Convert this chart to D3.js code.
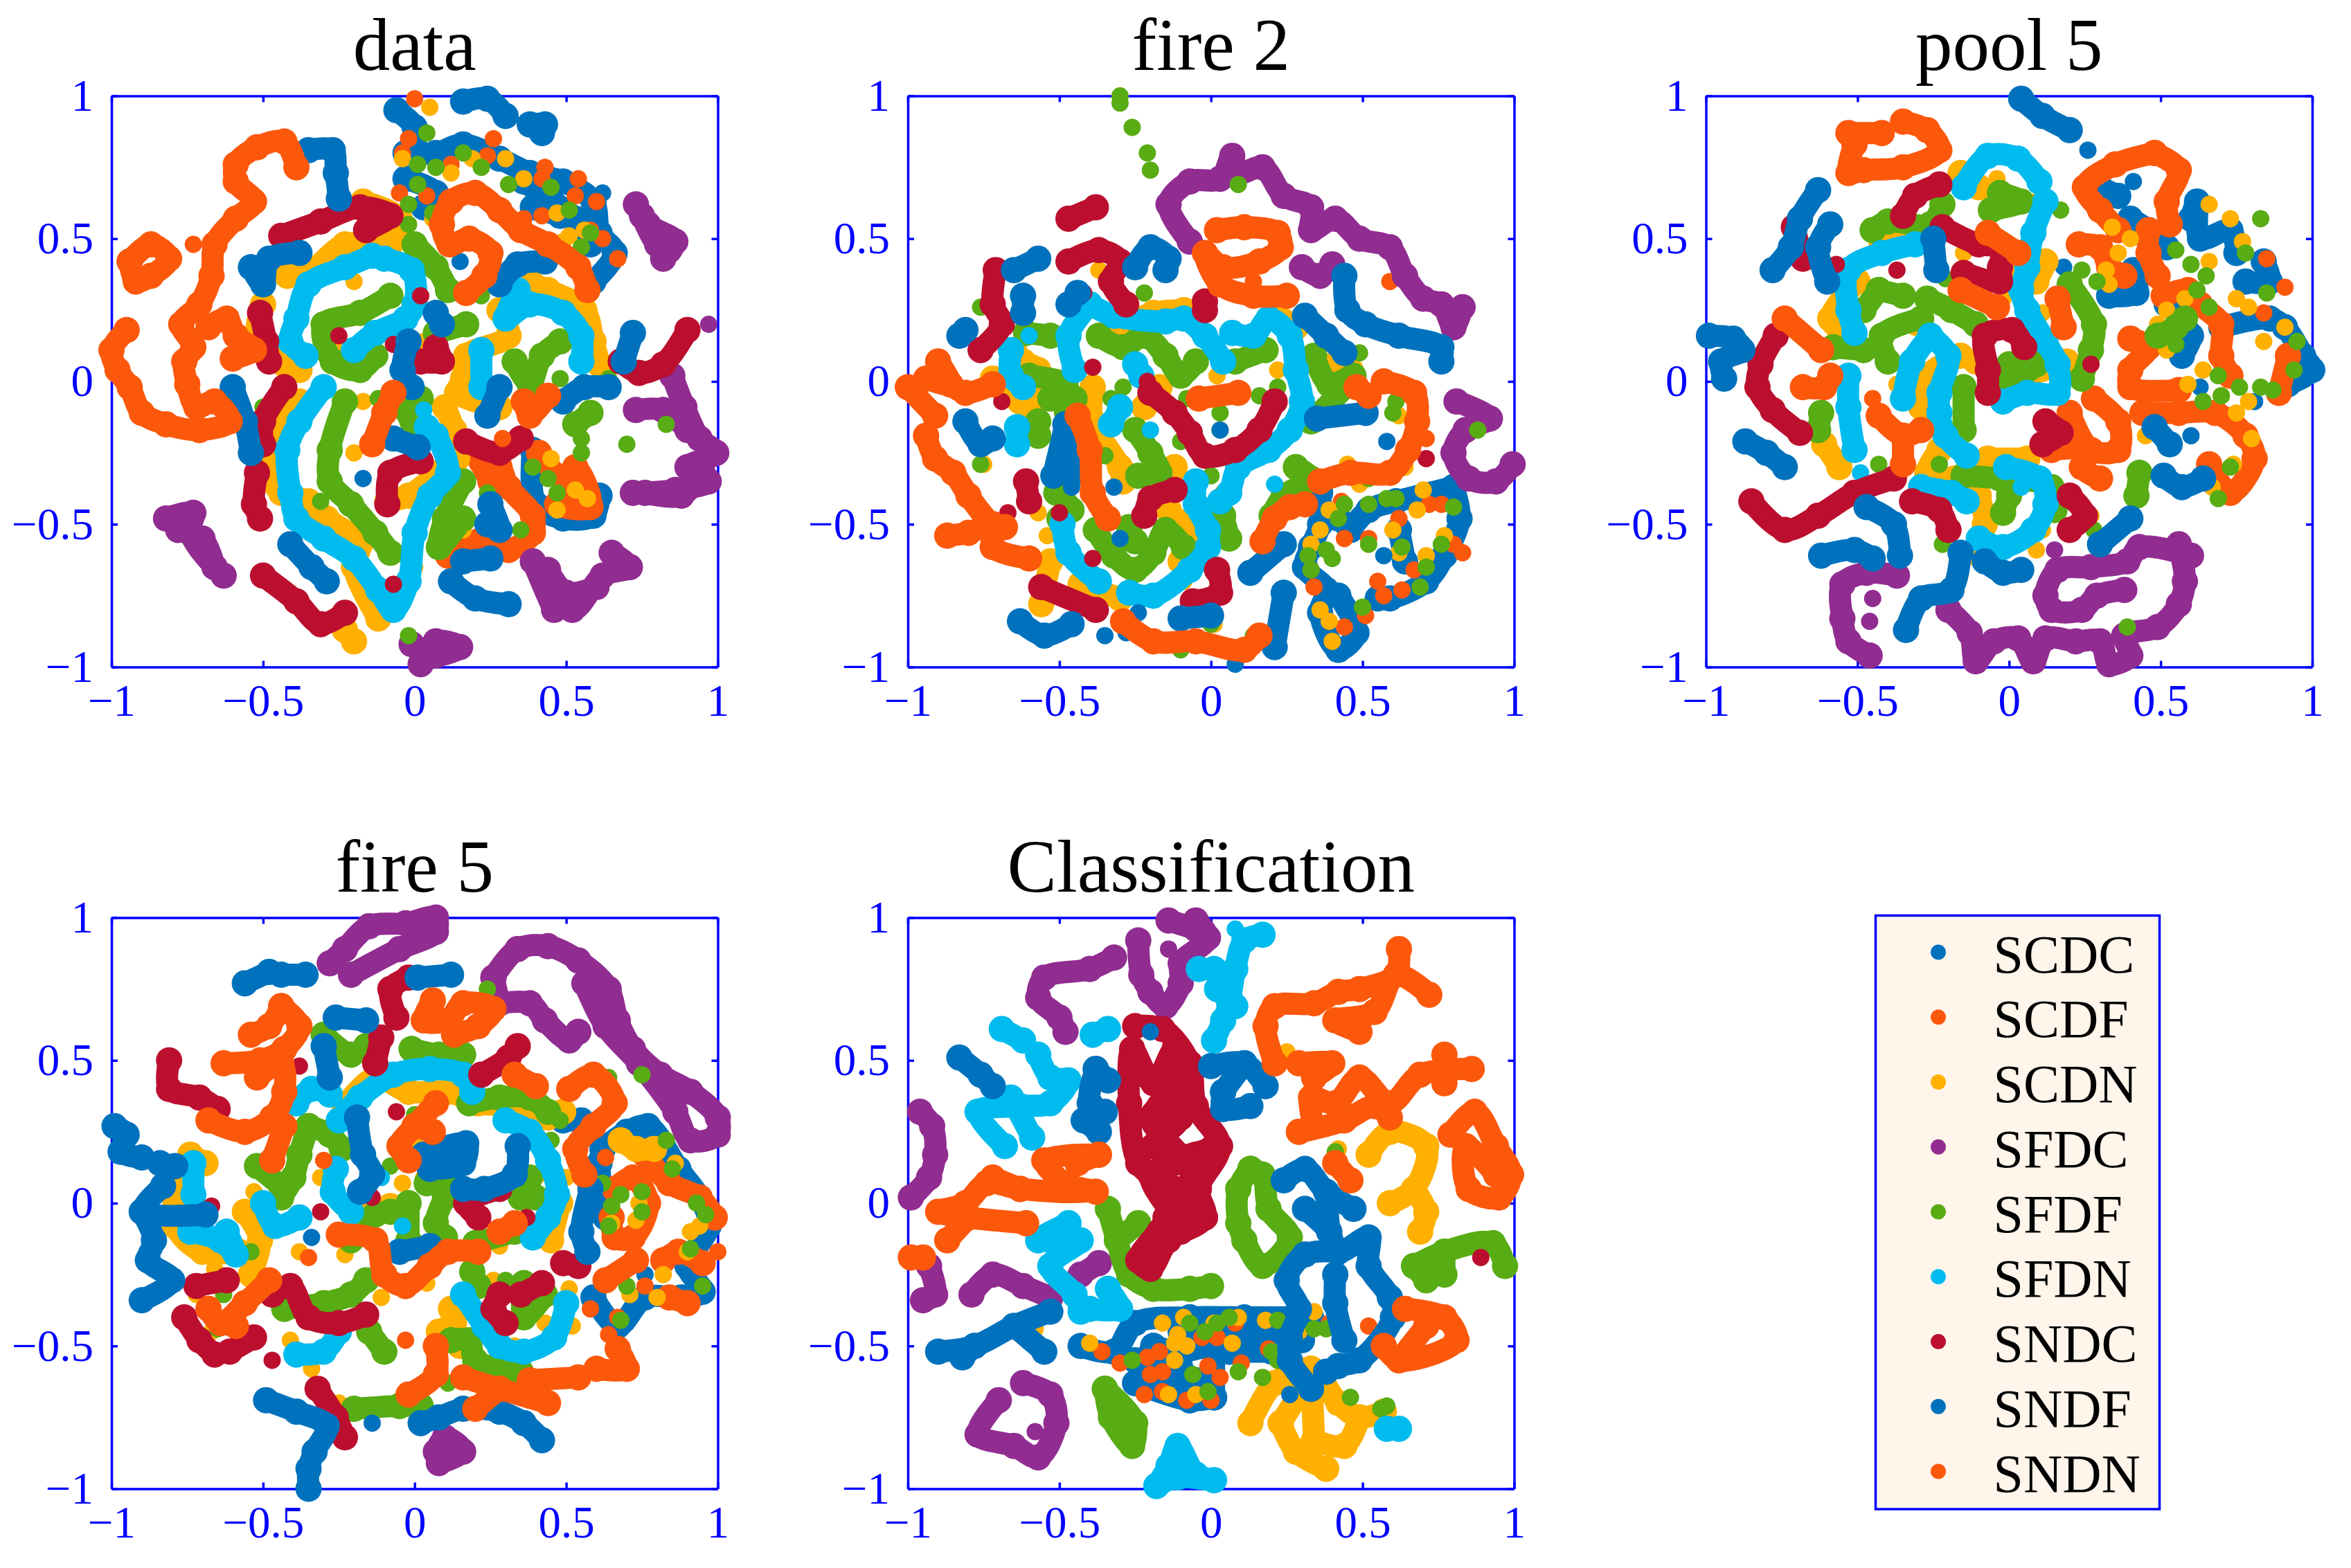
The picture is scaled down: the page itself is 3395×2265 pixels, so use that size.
<!doctype html>
<html>
<head>
  <meta charset="utf-8">
  <script src="https://d3js.org/d3.v7.min.js"></script>
  <style>
    html, body { margin: 0; background: #fff; }
    svg { display: block; }
    text { font-family: "Liberation Serif", serif; }
    .axis path, .axis line { stroke: #0000ff; stroke-width: 3.5; fill: none; }
    .axis text { fill: #0000ff; font-size: 65px; }
    .title { fill: #000; font-size: 107px; text-anchor: middle; }
    .trail { fill: none; stroke-width: 32; stroke-linecap: round; stroke-linejoin: round; }
  </style>
</head>
<body>
<script>
  var categories = ["SCDC", "SCDF", "SCDN", "SFDC", "SFDF", "SFDN", "SNDC", "SNDF", "SNDN"];
  var colors = ["#0072bd", "#fc580c", "#ffb000", "#912c91", "#58ac14", "#00bbee", "#bc0f2f", "#0072bd", "#fc580c"];
  var titles = ["data", "fire 2", "pool 5", "fire 5", "Classification"];
  var tickValues = [-1, -0.5, 0, 0.5, 1];
  var tickLabels = ["\u22121", "\u22120.5", "0", "0.5", "1"];

  // ---- data
  var data_SCDC = [
    [-.06,.95,0,.89,0,.82],[-.03,.8,.07,.8,.16,.83,.28,.78,.38,.73,.49,.7,.59,.63,.61,.52,.66,.45,.59,.35],
    [-.03,.71,.07,.66,.03,.61],[.36,.7,.43,.65,.53,.57,.58,.48],[.39,.61,.48,.58],[.62,.66],
    [.39,-.24,.4,-.43,.49,-.48,.59,-.47,.61,-.4]];
  var data_SCDF = [
    [0,.99],[-.02,.85],[-.04,.8],[.26,.85],[.24,.79],[-.05,.66],[.04,.65],[.43,.75],[.42,.71],[.54,.71],[.42,.58],[.53,.65],[.6,.63],
    [.58,.53],[.67,.43],[.62,.5],[.12,.76],[.36,.57],
    [.41,-.25,.49,-.34,.53,-.3,.58,-.44,.47,-.43,.49,-.4],
    [.11,-.61,.21,-.56,.31,-.59,.39,-.53,.39,-.47,.31,-.37,.28,-.3,.22,-.28,.25,-.35]];
  var data_SCDN = [
    [.05,.96],[-.04,.78],[.3,.78],[.12,.73],[.19,.78],[.36,.71],[.47,.59],[.51,.51],[.49,.49],[.56,.53],[.06,.57],
    [.45,-.27],[.53,-.38],[.57,-.41],[.47,-.45],
    [-.42,.37,-.34,.39,-.23,.48,-.08,.48,-.05,.57,-.17,.63],[-.5,.27,-.52,.17,-.43,.06,-.38,.04],
    [.39,.34,.44,.32,.56,.25,.59,.14,.61,.06],[.28,.25,.31,.16,.17,.09,.16,.01,.14,-.04,.28,-.09],
    [.1,-.09,.13,-.17,.14,-.27,.08,-.32,-.02,-.4,-.09,-.42],
    [-.38,-.07,-.47,-.22,-.49,-.3,-.44,-.39,-.35,-.42,-.29,-.48,-.18,-.57,-.2,-.65,-.12,-.83],
    [-.23,-.87,-.2,-.91],[0,-.65],[-.2,.35],[-.17,-.07],[-.2,-.25],[.16,-.52],[-.25,.12],[.03,.14]];
  var data_SFDC = [
    [.73,.62,.77,.55,.86,.49,.82,.43],[.75,.58,.8,.48,.84,.46],[.97,.2],
    [.85,.02,.89,-.09,.94,-.2,.995,-.25,.9,-.3,.97,-.35,.86,-.38,.72,-.39],[.73,-.1,.82,-.1,.9,-.17],[.76,-.39,.88,-.4,.95,-.32],
    [-.82,-.48,-.73,-.46,-.74,-.53,-.66,-.65,-.63,-.68],[-.78,-.52,-.7,-.55,-.66,-.65],
    [.39,-.63,.46,-.8,.42,-.66,.52,-.8,.62,-.68,.71,-.65,.65,-.6],[.44,-.66,.5,-.74,.6,-.72],
    [-.01,-.92,.07,-.96,.15,-.93,.07,-.91,.02,-.99]];
  var data_SFDF = [
    [.04,.87],[.01,.76],[.16,.8],[.07,.75],[.22,.75],[.01,.69],[-.02,.62],[.06,.59],[-.02,.55],[.31,.69],[.45,.68],[.51,.6],[.58,.52],[.55,.47],
    [.39,-.3],[.44,-.34],[.47,-.39],[.55,-.25],[.55,-.2],
    [-.08,.3,-.18,.24,-.3,.2,-.27,.07,-.18,.04,-.13,.09],[0,.48,.07,.4,.11,.32],[.22,.3],[.17,.2,.07,.17],
    [.33,.07,.38,-.01,.42,.09,.48,.14],[-.23,-.07,-.28,-.24,-.28,-.35,-.21,-.43,-.13,-.53,-.08,-.6],
    [.16,-.35,.1,-.48,.08,-.58,.16,-.48],[.02,-.06,-.02,-.11,0,-.17],[.58,-.11,.53,-.15],
    [.7,-.22],[.83,-.15],[.48,.01],[.35,-.52],[.24,-.39],[-.31,-.42],[-.02,-.89],[-.12,-.06],[-.5,-.09],[.64,.01]];
  var data_SFDN = [
    [-.14,.44,-.23,.4,-.35,.34,-.39,.22,-.41,.14,-.36,.09],[-.1,.43,-.01,.39,0,.27,-.03,.22,-.13,.17,-.2,.11],
    [.34,.32,.3,.22,.38,.27,.49,.24,.55,.16,.55,.07],[.22,.11,.22,-.02],
    [-.3,-.02,-.38,-.14,-.42,-.24,-.41,-.39,-.39,-.48,-.3,-.55,-.2,-.62,-.12,-.73,-.07,-.8,-.02,-.7,0,-.53,.05,-.4,.11,-.32,.07,-.19,.04,-.16],
    [.03,-.1]];
  var data_SNDC = [
    [-.44,.51,-.31,.56,-.18,.61,-.08,.58,-.16,.53],[-.51,.24,-.49,.14,-.48,.07],[-.25,.16],[-.07,.13],[.02,.3],
    [.02,.07,.09,.07,.07,.12],[-.43,-.02,-.5,-.14,-.5,-.22],[-.52,-.32,-.53,-.43,-.51,-.48],
    [-.5,-.68,-.39,-.77,-.31,-.85,-.23,-.81],[.02,-.28,-.08,-.32,-.09,-.43],[.17,-.21,.28,-.25,.35,-.2],
    [.68,.07,.74,.03,.82,.06,.9,.18],[-.07,-.71]];
  var data_SNDF = [
    [.16,.98,.24,.99,.3,.93],[.38,.9,.43,.9,.42,.87],[-.35,.81,-.27,.81,-.26,.73,-.25,.64],
    [-.54,.4,-.5,.34,-.48,.43,-.38,.45],[.28,.34,.34,.41,.43,.42],[.15,.42],[.07,.24,.09,.2],
    [-.02,.14,-.04,.04,-.01,-.02],[.28,-.02,.24,-.12],[.49,-.07,.56,-.02,.64,-.02],[.72,.17,.69,.07],
    [-.6,-.02,-.56,-.14,-.54,-.25],[-.41,-.57,-.34,-.65,-.29,-.7],[.12,-.7,.2,-.76,.31,-.78],[.16,-.63,.25,-.62],
    [.25,-.43,.28,-.52,.24,-.5],[-.17,-.34],[-.07,-.2,.01,-.23]];
  var data_SNDN = [
    [-.95,.18,-1,.11,-.98,.04,-.94,-.02,-.9,-.11,-.82,-.15,-.71,-.17,-.61,-.14,-.66,-.07,-.72,-.09,-.75,-.01,-.76,.07,-.73,.12,-.77,.2,-.71,.27,-.67,.37,-.66,.48,-.59,.57,-.53,.63,-.59,.7,-.59,.76,-.52,.82,-.43,.84,-.39,.75],
    [-.68,.19,-.62,.22,-.59,.16,-.53,.11,-.6,.08],[-.94,.42,-.87,.48,-.81,.43,-.87,.37,-.92,.35,-.94,.42],[-.73,.48],
    [.57,.32,.54,.4,.44,.48,.35,.53,.28,.6,.2,.66,.12,.63,.09,.55,.115,.48,.18,.5,.25,.45,.23,.37,.17,.31],
    [.36,-.07,.38,-.12,.44,-.05],[.29,-.2],[-.14,-.22,-.1,-.11,-.07,-.04]];

  // ---- fire 2
  var fire2_SCDC = [
    [.36,-.39,.36,-.5,.33,-.58,.31,-.65,.38,-.73,.36,-.81,.42,-.94,.48,-.88,.42,-.75],[.46,-.52,.52,-.45,.61,-.42],
    [.42,-.48,.46,-.52],[.8,-.37,.82,-.48,.77,-.61,.71,-.7,.59,-.76,.55,-.76],[.62,-.52,.64,-.63],[.61,-.42,.8,-.37]];
  var fire2_SCDF = [
    [.43,-.42],[.44,-.55],[.52,-.55],[.33,-.66],[.34,-.72],[.44,-.86],[.51,-.82],[.55,-.7],[.62,-.48],[.63,-.73],[.72,-.43],[.76,-.43],[.83,-.6],[.67,-.66],[.57,-.75],[.8,-.57],[.59,.35]];
  var fire2_SCDN = [
    [.39,-.45],[.36,-.52],[.33,-.57],[.36,-.8],[.39,-.84],[.4,-.91],[.6,-.52],[.62,-.6],[.68,-.45],[.7,-.38],[.77,-.54],[.71,-.61],[.45,-.29],[.49,-.36],[.64,-.3],[.62,-.12],
    [-.65,.11,-.62,.07,-.57,.04,-.6,-.09,-.63,-.07,-.72,.01],[-.75,-.29],[-.57,-.46],[-.54,-.54],[-.53,-.63,-.56,-.78],[-.43,-.71,-.3,-.76],[-.09,-.7],[-.37,.39],
    [-.09,.25,-.19,.24,-.3,.19],[-.39,-.02,-.39,-.14,-.3,-.3,-.29,-.35],[-.12,-.3,-.14,-.45,-.07,-.52,-.1,-.63],[.04,-.39],
    [.21,.24,.28,.19],[.22,.04],[.34,.07,.46,.04],[.02,.02],[-.22,-.09,-.17,-.02],[.03,-.17],[.01,-.85]];
  var fire2_SFDC = [
    [-.07,.49,-.14,.62,-.07,.7,.03,.71,.07,.79,.09,.73,.17,.75,.24,.65,.33,.61,.33,.53,.41,.57,.49,.5,.59,.47,.64,.37,.7,.29,.76,.27,.8,.19,.83,.26],
    [.3,.4,.36,.37,.4,.41],[.81,-.07,.92,-.13,.84,-.17,.8,-.25,.85,-.34,.94,-.35,.995,-.29]];
  var fire2_SFDF = [
    [-.3,1],[-.3,.975],[-.26,.89],[-.21,.8],[-.2,.74],[.09,.69],[-.22,.31],[.49,.1],[.88,-.17],
    [-.61,.17,-.53,.16],[-.37,.16,-.29,.12,-.22,.16,-.15,.09,-.1,.02,-.05,.07],[.08,.07,.18,.11],[-.6,.02,-.48,-.01,-.53,-.06,-.45,-.06],
    [.34,.09,.39,-.01,.47,.02,.33,-.14],[-.57,-.14,-.57,-.19],[-.49,-.11],[-.33,-.06],[-.29,-.02],[-.08,-.06],[.03,-.11],[.16,-.05],[.22,-.02],[-.76,.26],[-.76,-.29],[-.35,-.26],
    [-.25,-.17,-.2,-.25,-.17,-.32,-.24,-.33],[-.1,-.21],[0,-.33],[.28,-.3,.33,-.34,.24,-.4,.2,-.47],[-.51,-.39,-.46,-.45,-.5,-.48],
    [-.38,-.52,-.32,-.61,-.25,-.66,-.19,-.6,-.15,-.52,-.09,-.58],[-.27,-.51,-.25,-.56],[.04,-.47,.06,-.55],[0,-.85],[-.1,-.94],[.14,-.89],
    [.44,-.43],[.42,-.48],[.52,-.43],[.52,-.57],[.38,-.59],[.4,-.62],[.32,-.61],[.33,-.66],[.5,-.79],[.58,-.41],[.61,-.41],[.63,-.58],[.71,-.65],[.69,-.72],[.76,-.57],[.8,-.44],[.52,-.34],[.61,-.07],[.6,-.11]];
  var fire2_SFDN = [
    [-.4,.27,-.32,.23,-.15,.21,-.09,.22,-.02,.16,.04,.07],[-.4,.27,-.47,.16,-.45,.04],
    [.07,.17,.14,.16,.19,.22,.26,.16,.28,.04,.3,-.07,.26,-.17,.19,-.24,.09,-.3,.06,-.39,.03,-.42],
    [-.6,.16],[-.66,.11,-.66,.02,-.62,-.02],[-.64,-.16,-.64,-.22],[-.3,-.09,-.33,-.15],[-.25,.06,-.23,.02],[-.2,-.17],
    [-.05,-.35,-.05,-.43,-.01,-.52,-.01,-.58,-.07,-.66,-.19,-.75,-.27,-.74],[-.49,-.5,-.47,-.6,-.37,-.7],[.21,-.36]];
  var fire2_SNDC = [
    [-.47,.57,-.38,.61],[-.47,.42,-.37,.46,-.3,.42,-.33,.35,-.28,.27],[-.42,.31],[-.71,.39,-.72,.27,-.69,.2,-.76,.11],[-.02,.25,-.02,.28],
    [-.39,.05],[-.69,-.07],[-.21,0],[-.2,-.04,-.12,-.11,-.07,-.18,-.02,-.26,.08,-.24,.16,-.17,.21,-.07],[-.61,-.35,-.6,-.42],[-.67,-.46],[-.5,-.46],
    [-.22,-.47,-.2,-.41,-.12,-.38],[-.39,-.62],[.02,-.66,.03,-.74,-.06,-.77],[-.56,-.72,-.38,-.8],[.71,-.27]];
  var fire2_SNDF = [
    [-.65,.39,-.57,.43],[-.62,.3,-.62,.24],[-.47,.27,-.44,.31],[-.83,.16,-.81,.18],[-.25,.4,-.2,.47,-.14,.43,-.15,.39],
    [.44,.37,.45,.25,.51,.2,.62,.16,.76,.12,.76,.07],[.31,.23,.38,.16,.44,.1],[.35,-.13,.51,-.11],[-.81,-.14,-.76,-.22,-.72,-.2],
    [-.48,-.15,-.52,-.33],[-.48,-.15,-.45,-.32],[-.46,-.37],[.58,-.21],[.57,-.61],[.13,-.67,.24,-.57],[.24,-.74,.21,-.93],[.08,-.99],
    [-.63,-.84,-.55,-.89,-.46,-.85],[-.35,-.89],[-.28,-.88],[-.1,-.83,0,-.82],[-.24,-.81],[.03,-.17],[-.32,-.37],[-.3,-.55]];
  var fire2_SNDN = [
    [.02,.53,.11,.54,.22,.52,.23,.47,.16,.42,.04,.4,-.02,.45,.03,.34,.14,.3,.25,.3],[.14,.35],[-1,-.02,-.91,-.12],
    [-.9,.07,-.86,-.01,-.94,.01],[-.86,-.01,-.81,-.04,-.72,-.01],
    [-.94,-.19,-.91,-.27,-.85,-.32,-.8,-.4,-.72,-.5,-.68,-.51],[-.87,-.54,-.8,-.53,-.72,-.5,-.72,-.58,-.6,-.62],
    [.57,0,.67,-.04,.68,-.14,.65,-.24,.59,-.32,.46,-.32,.36,-.35],[.71,-.2],[.48,-.02,.52,-.05],
    [-.29,-.84,-.19,-.91,-.05,-.91,.11,-.94,.16,-.89],[.31,-.43,.26,-.44,.21,-.48,.17,-.56],
    [-.44,-.12,-.4,-.24,-.39,-.39,-.34,-.48],[-.04,-.06,.09,-.04]];

  // ---- pool 5
  var pool5_SCDC = [
    [.3,.68,.36,.65],[.41,.7],[.18,.4],[.33,.3,.42,.31,.41,.39],[.4,.57,.46,.53,.52,.47],[.6,.57,.62,.63,.63,.5,.73,.53,.75,.45],
    [.78,.35,.86,.35,.84,.42],[.52,.27,.6,.16,.57,.09],[.7,.19,.86,.22,.91,.19,.97,.09,1,.04,.92,-.01],[.63,-.02],[.81,-.07]];
  var pool5_SCDF = [
    [.48,.8,.56,.74,.52,.63,.53,.55],[.48,.8,.35,.76,.25,.68,.3,.6,.36,.53],[.23,.48,.3,.47,.33,.4,.38,.37],[.46,.53,.46,.45,.49,.37],
    [.51,.3,.59,.32,.63,.27,.7,.2,.7,.09,.73,.02],[.84,.24],[.91,.33],[.92,.09,.89,-.04],[.85,.43],
    [.4,.15,.46,.12,.4,.04,.4,-.02,.56,-.03],[.44,-.11,.56,-.11,.68,-.11,.78,-.19,.81,-.27,.73,-.39,.66,-.29],
    [.28,-.06,.36,-.14,.36,-.24,.27,-.24,.2,-.11],[.3,-.34,.24,-.3,.27,-.24,.14,-.24]];
  var pool5_SCDN = [
    [-.16,.73,-.1,.68],[.09,.63],[-.04,.71],[-.5,.35,-.59,.22,-.55,.17],[-.42,.48,-.32,.5],[-.15,.45],[.04,.37,.12,.42,.09,.35],[-.02,.29],[.11,.24],
    [-.31,.19],[-.16,.09,-.27,.02,-.29,-.09],[-.37,-.01],[-.11,.07,.03,.02,.19,.07],[-.61,-.22,-.56,-.3],[-.23,-.24,-.27,-.32,-.18,-.34],[-.07,-.27,.06,-.27],
    [-.1,-.4,-.08,-.5,-.11,-.6],[.09,-.59],[.11,-.52],[.27,-.47],
    [.66,.62],[.73,.57],[.77,.49],[.34,.54],[.4,.5],[.36,.45],[.32,.39],[.33,.34],[.58,.29],[.66,.42],[.52,.25],[.49,.2],[.52,.11],[.75,.29],[.79,.26],[.91,.19],[.84,.14],[.64,.04],[.59,-.01],[.75,-.11],[.79,-.07],[.8,-.2],[.74,-.29],[.67,-.37],[.45,-.19],[.7,-.05]];
  var pool5_SFDC = [
    [-.37,-.68,-.47,-.67,-.55,-.71,-.55,-.83,-.53,-.91,-.46,-.96],[-.45,-.76],[-.46,-.84],
    [-.2,-.8,-.13,-.88,-.11,-.98,-.05,-.91,.03,-.9,.08,-.98,.12,-.9,.22,-.91,.3,-.91,.33,-.99,.4,-.96,.38,-.89,.49,-.86,.56,-.78,.58,-.7,.56,-.57],
    [.6,-.61,.43,-.58,.39,-.63,.27,-.65,.16,-.66,.12,-.75,.14,-.8,.24,-.8,.29,-.75,.38,-.73],[.15,-.59]];
  var pool5_SFDF = [
    [-.03,.66,.04,.63,-.06,.6],[-.22,.62,-.26,.55,-.4,.56,-.45,.53],[-.43,.32,-.35,.3],[-.48,.25,-.43,.32],
    [-.27,.29,-.19,.25,-.11,.2],[-.29,.22,-.42,.16,-.4,.07],[-.58,.12,-.48,.11],[-.62,-.11,-.63,-.17],[-.15,-.02,-.15,-.17],[0,.06,.09,.06,-.01,-.01],
    [.2,.34,.28,.2,.27,.11,.24,.01],[.29,.35],[.43,-.32,.42,-.4],[0,-.4,-.02,-.46],[-.15,-.33,-.03,-.34,.14,-.37,.15,-.45],[-.23,-.29],[-.43,-.29],[-.22,-.57],
    [-.21,.36],[.24,.39],[.17,.6],[.28,-.52],[.39,-.86],[.73,-.3],[.69,-.41],
    [.55,.46],[.6,.41],[.65,.37],[.62,.32],[.66,.26],[.83,.57],[.78,.45],[.85,.31],[.58,.22,.55,.19,.49,.16],[.55,.13],[.95,.14],[.94,.04],[.83,-.02],[.87,-.03],[.76,-.02],[.69,.02],[.7,-.05],[.64,-.07]];
  var pool5_SFDN = [
    [-.15,.68,-.07,.79,.03,.78,.1,.7],[.12,.63,.08,.52,.06,.4,.04,.32,.06,.25,.12,.14,.16,.06,.16,-.04,.06,-.04,-.02,-.07],
    [-.31,.48,-.42,.45,-.53,.39,-.53,.25,-.51,.17],[-.26,.16,-.32,.07,-.35,-.06],[-.26,.16,-.2,.09,-.23,-.04,-.23,-.11,-.21,-.19,-.14,-.26],
    [-.53,.02,-.53,-.09,-.51,-.24],[-.49,-.32],[-.29,-.37,-.19,-.39,-.14,-.42],[-.01,-.3,.1,-.34,.12,-.43,.08,-.52,-.02,-.58,-.1,-.55],[.04,-.37]];
  var pool5_SNDC = [
    [-.77,.16,-.82,.06,-.83,-.02,-.78,-.1,-.69,-.18],[-.85,-.42,-.74,-.52,-.63,-.47,-.51,-.39,-.38,-.34],[-.35,.58,-.31,.65,-.23,.69],
    [-.22,.54,-.1,.48,-.03,.47,-.03,.4,-.03,.35,-.15,.38],[-.71,.54,-.68,.43],[-.57,.41],[-.37,.39],
    [.05,.12,.01,.18,-.08,.16,-.07,.04,-.07,-.04],[.12,-.14,.17,-.18,.11,-.22],[.27,.06],[-.32,-.42,-.23,-.45,-.2,-.52],[.2,-.4,.25,-.47,.2,-.52]];
  var pool5_SNDF = [
    [.04,.99,.11,.93,.2,.88],[.26,.81],[-.63,.67,-.69,.57,-.72,.47,-.78,.39],[-.59,.55,-.63,.47,-.6,.35],
    [-.99,.16,-.91,.15,-.88,.11,-.95,.07,-.94,.01],[-.87,-.21,-.8,-.25,-.74,-.3],[-.25,.5,-.24,.39],[-.47,-.44,-.38,-.5,-.36,-.61],[-.62,-.61,-.51,-.59,-.45,-.62],
    [-.34,-.87,-.29,-.76,-.19,-.73,-.16,-.6],[-.08,-.63,-.02,-.67,.04,-.66],[.3,-.57,.4,-.48],[.51,-.33,.57,-.37,.64,-.34],[.48,-.16,.53,-.22],[.6,-.19]];
  var pool5_SNDN = [
    [-.53,.87,-.42,.87],[-.35,.91,-.27,.88,-.23,.81,-.35,.75,-.48,.74,-.53,.73,-.51,.83],[-.07,.52,.03,.45],[-.16,.32,-.04,.26],[.16,.29,.18,.19],
    [-.74,.22,-.62,.11],[-.68,-.02,-.61,-.02,-.59,.02],[-.45,-.06],[-.43,-.12,-.35,-.19,-.29,-.17],[-.35,-.19,-.35,-.29]];

  // ---- fire 5
  var fire5_SCDC = [
    [.62,.19,.7,.25,.77,.27,.87,.12,.94,.02,.97,-.08,.9,-.22,.95,-.31,.88,-.33,.76,-.33,.67,-.43,.59,-.33],
    [.63,-.05,.61,.14,.62,.19],[.68,-.13],[.76,.2],[.49,.29,.55,.29],[.76,-.25]];
  var fire5_SCDF = [
    [.63,.16],[.76,.17,.84,.07,.94,.02,.99,-.05],[1,-.17],[.66,.05,.72,.09,.77,0,.72,-.12,.66,-.12,.65,-.05],
    [.82,-.2,.87,-.17,.95,-.21],[.84,-.33,.9,-.35],[.58,-.37],[.67,-.4],[.64,-.46],[.76,-.29]];
  var fire5_SCDN = [
    [.68,.22,.73,.19,.79,.19],[.86,.14],[.74,0],[.65,-.07],[.73,-.06],[.91,-.1],[.94,-.08],[.9,-.17],[.71,-.32],[.8,-.33],[.82,-.25],
    [-.74,.17,-.69,.14],[-.79,.05,-.79,-.08,-.7,-.17,-.58,-.17],[-.56,-.03,-.51,-.13,-.54,-.25],[-.66,-.23],[-.72,-.32],[-.38,-.17],[-.53,.04],[-.39,-.06],[-.31,.09],
    [-.23,.34,-.13,.44,-.02,.39,.11,.39,.21,.35,.31,.34,.44,.3,.49,.32],[.03,.09],[-.04,.07],[-.08,-.01,-.18,-.03],[-.23,-.18],[-.11,-.33],[.04,-.28],
    [.41,.1],[.5,.09],[.48,0,.45,-.13],[.28,-.15],[.12,-.37,.13,-.42,.08,-.45,.15,-.5],[.33,-.5],[.51,-.3],[.52,-.43],[.43,-.42],[-.41,-.48],[-.34,-.58],[-.67,-.45],[-.25,-.7],[.26,-.27],[0,.22]];
  var fire5_SFDC = [
    [-.28,.84,-.23,.89,-.15,.97,-.03,.98,.07,1,.07,.95,-.05,.89,-.21,.8],
    [.26,.79,.34,.89,.44,.9,.54,.85,.64,.75,.67,.64,.72,.54,.81,.45,.91,.39,1,.3,1,.24,.91,.22,.86,.32,.74,.49,.63,.62,.56,.77],
    [.28,.7,.38,.7,.43,.64,.51,.57,.54,.6],[.26,.79,.28,.7],[.07,-.87,.1,-.82,.16,-.87,.08,-.91]];
  var fire5_SFDF = [
    [-.3,.59,-.21,.52,-.16,.55],[-.01,.54,.08,.52,.16,.52],[-.35,.27,-.28,.24,-.24,.19],[-.35,.27,-.38,.17,-.4,.09,-.44,.02],[-.52,.13,-.44,.06],
    [.18,.35,.28,.37,.38,.37,.44,.32],[-.21,-.13,-.13,-.04,-.08,-.03],[.04,.07,.11,.09],[.1,.02,.07,-.07,.1,-.12],[-.02,0,-.02,-.13],
    [.2,-.14,.33,-.1],[.38,.09,.35,.02,.4,.02],[.19,-.24,.21,-.29],[.36,-.28,.36,-.4,.43,-.32],[.12,-.48,.18,-.48,.2,-.55,.35,-.59],[.11,-.63],
    [-.15,-.45,-.1,-.52],[-.2,-.72,-.05,-.71,.02,-.71],[-.43,-.37,-.3,-.35,-.21,-.32,-.16,-.27],
    [.24,.75],[0,.31],[-.08,.13],[-.54,-.17],[-.07,-.18],[.3,-.27],[-.63,-.32],[-.65,-.44],
    [.83,.22],[.85,.12],[.62,.07],[.68,.03],[.75,.04],[.75,-.03],[.93,0],[.96,-.04],[.64,-.08],[.91,-.16],[.95,-.29],[.7,-.29],[.68,-.41],[.65,-.01],[.64,.44],[.75,.45],[.48,.29],[.45,.22]];
  var fire5_SFDN = [
    [-.25,.29,-.18,.37,-.07,.45,.05,.47,.16,.45,.19,.39],[-.39,.35,-.34,.4,-.28,.38],[.3,.29,.38,.25,.44,.15,.47,.03,.44,-.05,.39,-.12],
    [-.73,.14,-.73,.03],[-.74,-.1,-.64,-.13,-.59,-.18,-.62,-.1],[-.5,0,-.46,-.08,-.38,-.05],[-.26,.12,-.27,.04,-.21,-.03],[-.04,-.08],[-.11,.09],
    [.16,-.32,.23,-.43,.28,-.5,.36,-.52,.46,-.47,.5,-.35],[-.39,-.53,-.3,-.52,-.25,-.45]];
  var fire5_SNDC = [
    [-.81,.5,-.81,.4,-.71,.37,-.65,.33],[-.11,.58,-.13,.49],[-.38,.48],[-.02,.79,-.08,.75,-.06,.65],[.34,.55,.31,.51,.22,.45],[-.06,.32],
    [-.67,-.01],[-.31,-.03],[-.14,.02],[.37,-.05],[.28,.05,.17,0,.21,-.05],[-.72,-.29,-.62,-.27],[-.76,-.4,-.71,-.48,-.66,-.53],[-.61,-.52,-.53,-.47],[-.47,-.55],
    [-.47,-.32,-.41,-.29,-.35,-.4,-.25,-.42,-.16,-.39],[.49,-.21,.54,-.22],[.28,-.32,.26,-.37,.3,-.42],[.35,-.32,.42,-.28],[-.32,-.65,-.26,-.75,-.23,-.82]];
  var fire5_SNDF = [
    [-.56,.77,-.48,.81],[-.44,.8,-.36,.8],[.01,.79,.12,.8],[-.26,.65,-.16,.64],[-.3,.55,-.28,.44],[-.99,.27,-.95,.24,-.97,.18,-.9,.16],[-.84,.14,-.79,.13],
    [-.83,.06,-.9,-.03,-.69,-.04],[-.9,-.03,-.86,-.13,-.88,-.2,-.8,-.27,-.9,-.34],[-.19,.3,-.17,.17,-.14,.1,-.18,.04],[.03,.17,.17,.21,.16,.14,.05,.12],
    [.16,.05,.23,.05,.33,.1,.34,.2],[.58,.05,.55,-.1,.57,-.17],[-.34,-.12],[-.05,-.17,.05,-.15],
    [-.49,-.69,-.39,-.73,-.29,-.78,-.33,-.87,-.35,-.93,-.35,-1],[-.14,-.77],[.02,-.77,.08,-.75,.16,-.72,.28,-.73,.36,-.77,.42,-.83]];
  var fire5_SNDN = [
    [-.44,.69,-.38,.62,-.43,.54,-.51,.5,-.63,.49],[-.54,.59,-.48,.62,-.44,.69],[-.52,.44,-.44,.49,-.43,.39,-.47,.3,-.56,.25,-.68,.29],[-.43,.27,-.47,.15],
    [.06,.71,.03,.64,.11,.64,.16,.7,.26,.68,.21,.62,.13,.59],[.33,.45,.4,.41],[.51,.4,.59,.45,.66,.35,.59,.27,.53,.19,.56,.1],[-.3,.15],
    [.07,.35,0,.27,-.05,.2,-.02,.15],[.06,.25,0,.27],[-.35,-.19],[-.25,-.11,-.13,-.13,-.1,-.25,-.03,-.29,.05,-.22,.11,-.17,.21,-.17],[.28,-.1,.33,-.07],
    [.63,-.27,.73,-.2],[.6,-.58,.7,-.58,.67,-.51],[.38,-.62,.54,-.61],[-.02,-.67,.07,-.6,.07,-.5],[.16,-.61,.28,-.65,.44,-.7],[.2,-.72,.28,-.65],
    [-.48,-.27,-.56,-.35,-.64,-.42,-.68,-.37],[-.59,-.43,-.64,-.42],[-.03,-.48]];

  // ---- Classification
  var classification_SCDC = [
    [-.43,-.5,-.32,-.52,-.25,-.42,-.07,-.4,.11,-.4,.33,-.4],[.06,-.52,.2,-.52],[-.19,-.5,-.1,-.52,.01,-.5,.06,-.52],[-.25,-.63,-.07,-.69,.01,-.68],
    [-.22,-.55,-.09,-.6,-.25,-.63],[-.07,-.69,-.09,-.6,.01,-.68],[-.19,-.5,-.22,-.55],[-.07,-.4,-.1,-.52,-.09,-.6],[.01,-.5,.01,-.68],
    [-.1,-.45,.05,-.45,.15,-.45,.3,-.48],[-.2,-.6,-.05,-.62,0,-.6],[-.25,-.55,-.15,-.65]];
  var classification_SCDF = [
    [-.58,-.49],[-.36,-.52],[-.3,-.56],[-.21,-.54],[-.17,-.52],[-.2,-.6],[-.16,-.59],[-.22,-.67],[-.16,-.66],[-.08,-.69],[0,-.69],[-.01,-.57],[.03,-.61],[-.03,-.47],[.02,-.47],[.1,-.56],[.08,-.42],[.19,-.51],[.25,-.51],[.39,-.42],[.52,-.43]];
  var classification_SCDN = [
    [-.58,-.44],[-.4,-.49],[-.16,-.42],[-.11,-.46],[-.08,-.5],[-.12,-.49],[-.12,-.55],[-.14,-.67],[-.05,-.67],[-.09,-.4],[.01,-.42],[.07,-.49],[.09,-.4],[.18,-.41],[.34,-.38],[.29,-.45],
    [.52,.17,.59,.25,.71,.2,.67,.05,.59,0],[.67,.05,.71,-.03,.69,-.1],[.25,.53],
    [.13,-.77,.21,-.63,.33,-.58,.42,-.7,.49,-.75,.57,-.73],[.23,-.77,.28,-.87,.38,-.93],[.34,-.83,.44,-.85,.49,-.75],[.29,-.67,.23,-.77],[.33,-.58,.34,-.83],[.61,-.78],[.42,.19]];
  var classification_SFDC = [
    [-.24,.92,-.23,.8,-.2,.74,-.15,.69,-.1,.77,-.1,.84,-.01,.93,-.05,.99],[-.14,.99,-.05,.96],[-.14,.89],
    [-.32,.86,-.4,.82,-.55,.79,-.57,.72,-.5,.65,-.48,.6],[-.96,.32,-.92,.27,-.91,.17,-.93,.09,-.99,.02],[-.93,-.22,-.91,-.32,-.95,-.34],
    [-.79,-.32,-.72,-.25,-.62,-.29,-.53,-.33],[-.37,-.21,-.43,-.25],[-.62,-.63,-.53,-.67,-.51,-.77,-.57,-.89,-.65,-.85,-.77,-.81,-.7,-.69],[-.58,-.8]];
  var classification_SFDF = [
    [.13,.12,.09,.05,.09,-.07,.11,-.13,.17,-.22,.26,-.12,.19,-.02,.17,.1,.13,.12],
    [-.34,-.02,-.31,-.13,-.27,-.25,-.19,-.3,-.07,-.3,0,-.29],[-.24,-.07,-.31,-.13],[-.35,-.65,-.33,-.75,-.26,-.85,-.25,-.77,-.35,-.65],
    [.67,-.22,.77,-.17,.93,-.14,.97,-.22],[.71,-.27,.67,-.22],[.77,-.25,.77,-.17],[.41,.18],[.4,.13],[.56,-.72],[.58,-.71],[.46,-.68],
    [-.26,-.55],[-.07,-.42],[-.02,-.45],[.02,-.42],[.06,-.4],[.22,-.41],[.29,-.4],[.34,-.44],[.38,-.44],[.2,-.52],[.22,-.55],[-.06,-.6],[-.01,-.66],[.09,-.59],[.17,-.61]];
  var classification_SFDN = [
    [.08,.96],[.17,.94,.11,.92,.08,.82,.06,.7,.04,.64,.01,.57],[.02,.75,.08,.69],[-.04,.82,.01,.82],[-.69,.61,-.62,.57],[-.39,.59,-.34,.61],
    [-.57,.52,-.53,.44,-.47,.43,-.53,.35,-.63,.34,-.77,.32,-.68,.2],[-.66,.37,-.59,.23],
    [-.47,-.07,-.57,-.13,-.43,-.13,-.53,-.22,-.45,-.32,-.43,-.38],[-.34,-.3,-.3,-.37,-.4,-.37],
    [-.18,-.99,-.14,-.92,-.11,-.85,-.05,-.95,.01,-.97,-.11,-.96,-.18,-.99],[.58,-.79,.62,-.79]];
  var classification_SNDC = [
    [-.25,.62,-.16,.61,-.07,.49,-.05,.34,.03,.2,-.04,.05,-.02,-.05,-.14,-.13,-.2,-.23,-.24,-.2,-.15,-.05,-.17,.07,-.24,.14,-.27,.35,-.26,.54,-.19,.42,-.12,.54,-.1,.3,-.19,.2,-.07,.14,-.09,0],
    [-.05,.17,0,.19,-.14,.17,-.17,.34],[-.17,.07,-.05,.04],[-.14,-.05,-.02,-.05],[-.22,.45,-.12,.4,-.2,.3,-.1,.15,-.2,.1,-.1,-.1,-.17,-.1],[.89,-.19]];
  var classification_SNDF = [
    [-.2,.6],[-.83,.51,-.76,.45,-.72,.41],[-.38,.47,-.4,.35,-.35,.32],[-.42,.29,-.37,.25],[-.34,.43,-.38,.47],
    [0,.48,.11,.49,.18,.41],[.04,.39,.04,.33,.13,.34],[.11,.49,.04,.39],
    [.24,.08,.31,.12,.38,.04,.47,-.02],[.31,-.02,.39,-.1,.42,-.17,.52,-.12,.52,-.22,.59,-.33,.6,-.4,.49,-.55,.42,-.57,.38,-.59],[.38,.04,.39,-.1],
    [.42,-.17,.31,-.18,.25,-.27,.29,-.37,.26,-.47,.26,-.55,.33,-.65],[.41,-.25,.41,-.35,.44,-.48],
    [-.53,-.38,-.65,-.43,-.78,-.5,-.9,-.52],[-.82,-.54,-.78,-.5],[-.55,-.52,-.65,-.43],[.26,-.67]];
  var classification_SNDN = [
    [.62,.89,.61,.8,.49,.75,.42,.74,.34,.7,.21,.69,.18,.62,.21,.49],[.49,.6,.41,.64,.54,.67,.61,.8,.72,.73],[.29,.49,.4,.49,.34,.44],
    [.77,.52,.77,.42],[.86,.47,.69,.45,.59,.35,.49,.44,.41,.35,.33,.37,.33,.27,.29,.25,.44,.29,.54,.34,.59,.3],
    [.41,.14,.46,.08],[.79,.24,.87,.32,.94,.2,.99,.1,.95,.02,.85,.05,.84,.2,.94,.1],
    [.64,-.37,.77,-.4,.81,-.48,.62,-.55,.57,-.5],[.71,-.43,.62,-.55],
    [-.37,.17,-.55,.15,-.48,.07,-.38,.04,-.63,.05,-.74,.07,-.81,0,-.9,-.03,-.8,-.05,-.61,-.07],[-.87,-.13,-.8,-.05],[-.72,.09,-.63,.05],[-.44,.14,-.37,.17],[-.99,-.19,-.95,-.19]];

  var panels = [
    [data_SCDC, data_SCDF, data_SCDN, data_SFDC, data_SFDF, data_SFDN, data_SNDC, data_SNDF, data_SNDN],
    [fire2_SCDC, fire2_SCDF, fire2_SCDN, fire2_SFDC, fire2_SFDF, fire2_SFDN, fire2_SNDC, fire2_SNDF, fire2_SNDN],
    [pool5_SCDC, pool5_SCDF, pool5_SCDN, pool5_SFDC, pool5_SFDF, pool5_SFDN, pool5_SNDC, pool5_SNDF, pool5_SNDN],
    [fire5_SCDC, fire5_SCDF, fire5_SCDN, fire5_SFDC, fire5_SFDF, fire5_SFDN, fire5_SNDC, fire5_SNDF, fire5_SNDN],
    [classification_SCDC, classification_SCDF, classification_SCDN, classification_SFDC, classification_SFDF, classification_SFDN, classification_SNDC, classification_SNDF, classification_SNDN]
  ];

  var boxes = [
    { left: 161, top: 138.5 }, { left: 1311, top: 138.5 }, { left: 2463.5, top: 138.5 },
    { left: 161, top: 1325.5 }, { left: 1311, top: 1325.5 }
  ];
  var W = 875.5, H = 825;

  var svg = d3.select("body").append("svg")
    .attr("width", 3395)
    .attr("height", 2265);

  var x = d3.scaleLinear().domain([-1, 1]).range([0, W]);
  var y = d3.scaleLinear().domain([-1, 1]).range([H, 0]);
  var line = d3.line()
    .x(function (d) { return x(d[0]); })
    .y(function (d) { return y(d[1]); })
    .curve(d3.curveCatmullRom.alpha(0.5));

  function toPairs (flat) {
    return d3.range(0, flat.length, 2).map(function (i) { return [flat[i], flat[i + 1]]; });
  }

  panels.forEach(function (series, p) {
    var g = svg.append("g").attr("transform", "translate(" + boxes[p].left + "," + boxes[p].top + ")");

    g.append("text").attr("class", "title")
      .attr("x", W / 2)
      .attr("y", -38)
      .text(titles[p]);

    // labelled left and bottom axes, bare ticks on the other two sides
    g.append("g").attr("class", "axis")
      .call(d3.axisLeft(y).tickValues(tickValues).tickSizeInner(-9).tickSizeOuter(0).tickPadding(26)
        .tickFormat(function (d, i) { return tickLabels[i]; }));
    g.append("g").attr("class", "axis").attr("transform", "translate(0," + H + ")")
      .call(d3.axisBottom(x).tickValues(tickValues).tickSizeInner(-9).tickSizeOuter(0).tickPadding(24)
        .tickFormat(function (d, i) { return tickLabels[i]; }));
    g.append("g").attr("class", "axis").attr("transform", "translate(" + W + ",0)")
      .call(d3.axisRight(y).tickValues(tickValues).tickSizeInner(-9).tickSizeOuter(0).tickFormat(""));
    g.append("g").attr("class", "axis")
      .call(d3.axisTop(x).tickValues(tickValues).tickSizeInner(-9).tickSizeOuter(0).tickFormat(""));

    series.forEach(function (trails, s) {
      var sg = g.append("g").attr("class", categories[s]);
      trails.forEach(function (flat) {
        var pts = toPairs(flat);
        if (pts.length > 1) {
          sg.append("path").attr("class", "trail").attr("d", line(pts)).attr("stroke", colors[s]);
        }
        sg.selectAll(null).data(pts).enter().append("circle")
          .attr("cx", function (d) { return x(d[0]); })
          .attr("cy", function (d) { return y(d[1]); })
          .attr("r", pts.length > 1 ? 19 : 12.5)
          .attr("fill", colors[s]);
      });
    });
  });

  // legend
  var legend = svg.append("g").attr("transform", "translate(2708.5,1322.5)");
  legend.append("rect")
    .attr("width", 410)
    .attr("height", 857.5)
    .attr("fill", "#fff5eb")
    .attr("stroke", "#0000ff")
    .attr("stroke-width", 3.5);
  var row = d3.scalePoint().domain(categories).range([53, 803]);
  var entry = legend.selectAll("g.entry").data(categories).enter().append("g")
    .attr("class", "entry")
    .attr("transform", function (d) { return "translate(0," + row(d) + ")"; });
  entry.append("circle")
    .attr("cx", 90.5)
    .attr("r", 11)
    .attr("fill", function (d, i) { return colors[i]; });
  entry.append("text")
    .attr("x", 170)
    .attr("y", 29)
    .attr("font-size", 78)
    .attr("fill", "#000")
    .text(function (d) { return d; });
</script>
</body>
</html>
